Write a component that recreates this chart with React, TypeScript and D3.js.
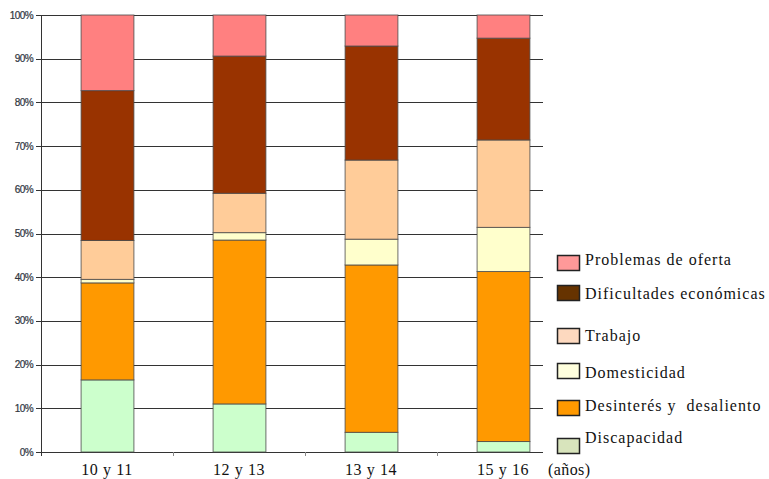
import React from 'react'
import * as d3 from 'd3'

const CATEGORIES = ['10 y 11', '12 y 13', '13 y 14', '15 y 16']
const SERIES = ['Discapacidad', 'Desinterés y  desaliento', 'Domesticidad', 'Trabajo', 'Dificultades económicas', 'Problemas de oferta']

const DISCAPACIDAD = [16.5, 11.0, 4.5, 2.4]
const DESINTERES = [22.2, 37.5, 38.3, 38.9]
const DOMESTICIDAD = [0.8, 1.7, 5.9, 10.1]
const TRABAJO = [8.9, 9.0, 18.1, 20.0]
const DIFICULTADES = [34.3, 31.4, 26.1, 23.3]
const PROBLEMAS = [17.3, 9.4, 7.1, 5.3]

const Y_TICKS = [0, 10, 20, 30, 40, 50, 60, 70, 80, 90, 100]

const BAR_COLORS = ['#ccffcc', '#ff9900', '#ffffcc', '#ffcc99', '#993300', '#ff8080']
const LEGEND_COLORS = ['#d8e4bc', '#ff9900', '#ffffdd', '#fdd9bf', '#663300', '#ff9999']
// legend rows, top to bottom (swatch top, text middle)
const LEGEND_ROWS = [
  { idx: 5, sy: 255, ty: 260 },
  { idx: 4, sy: 285, ty: 294 },
  { idx: 3, sy: 328, ty: 336 },
  { idx: 2, sy: 363, ty: 373 },
  { idx: 1, sy: 400, ty: 406 },
  { idx: 0, sy: 438, ty: 438 }
]

const left = 41
const bandRight = 569
const gridRight = 543
const top = 15
const bottom = 452

export default function App() {
  const rows = CATEGORIES.map((c, i) => ({
    cat: c,
    [SERIES[0]]: DISCAPACIDAD[i],
    [SERIES[1]]: DESINTERES[i],
    [SERIES[2]]: DOMESTICIDAD[i],
    [SERIES[3]]: TRABAJO[i],
    [SERIES[4]]: DIFICULTADES[i],
    [SERIES[5]]: PROBLEMAS[i]
  }))

  const stacked = d3.stack<any>().keys(SERIES)
    .offset(d3.stackOffsetExpand)(rows)

  const x = d3.scaleBand()
    .domain(CATEGORIES)
    .range([left, bandRight])
    .paddingInner(0.6)
    .paddingOuter(0.3)

  const y = d3.scaleLinear().domain([0, 100]).range([bottom, top])

  const boundaries = CATEGORIES.slice(1).map(c => x(c)! - x.step() * x.paddingInner() / 2)

  return (
    <svg width={769} height={479} style={{ position: 'absolute', left: 0, top: 0, background: '#fff' }}>
      {/* gridlines */}
      {Y_TICKS.map(t => (
        <g key={t}>
          <line x1={left - 5} x2={gridRight} y1={Math.round(y(t)) + 0.5} y2={Math.round(y(t)) + 0.5} stroke="#333" strokeWidth={1.1} />
          <text x={33} y={y(t) + 3.5} textAnchor="end" fontFamily="'Liberation Sans', Arial, sans-serif"
            fontSize={10} letterSpacing={-0.6} fill="#2e3440" stroke="#2e3440" strokeWidth={0.2}>{t}%</text>
        </g>
      ))}
      <line x1={left + 0.5} x2={left + 0.5} y1={top} y2={bottom + 4} stroke="#333" />
      {boundaries.map((b, i) => (
        <line key={i} x1={Math.round(b) + 0.5} x2={Math.round(b) + 0.5} y1={bottom} y2={bottom + 4} stroke="#888" />
      ))}

      {/* bars */}
      {stacked.map((s, si) => (
        <g key={s.key}>
          {s.map((d, i) => (
            <rect key={i}
              x={x(CATEGORIES[i])! + 0.5}
              y={y(d[1] * 100)}
              width={x.bandwidth()}
              height={y(d[0] * 100) - y(d[1] * 100)}
              fill={BAR_COLORS[si]}
              stroke="#4a4a4a"
              strokeOpacity={0.8}
              strokeWidth={1} />
          ))}
        </g>
      ))}

      {/* category labels */}
      {CATEGORIES.map(c => (
        <text key={c} x={x(c)! + x.bandwidth() / 2} y={475} textAnchor="middle"
          fontFamily="'Liberation Serif', 'Times New Roman', serif" fontSize={16} letterSpacing={0.6} fill="#111">{c}</text>
      ))}
      <text x={548} y={475} fontFamily="'Liberation Serif', 'Times New Roman', serif" fontSize={16} letterSpacing={0.4} fill="#111">(años)</text>

      {/* legend */}
      {LEGEND_ROWS.map(r => (
        <g key={r.idx}>
          <rect x={557.5} y={r.sy + 0.5} width={22} height={15} fill={LEGEND_COLORS[r.idx]} stroke="#222" strokeWidth={1.5} />
          <text x={585} y={r.ty + 5} fontFamily="'Liberation Serif', 'Times New Roman', serif" fontSize={16}
            letterSpacing={1} fill="#111" style={{ whiteSpace: 'pre' }}>{SERIES[r.idx]}</text>
        </g>
      ))}
    </svg>
  )
}
